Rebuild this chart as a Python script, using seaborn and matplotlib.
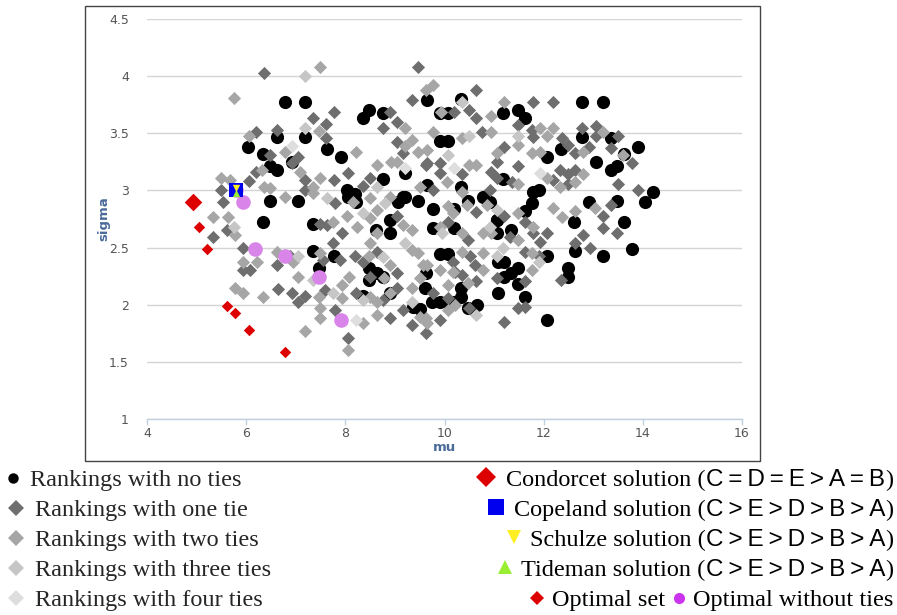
import matplotlib
matplotlib.use("Agg")
import matplotlib.pyplot as plt
import seaborn as sns
import pandas as pd
from matplotlib.patches import Rectangle
from matplotlib.lines import Line2D

# ---- data (mu, sigma) ----
no_ties_mu = [6.78, 7.19, 6.04, 6.34, 6.48, 6.62, 6.62, 7.19, 7.63, 7.91, 6.92, 7.05, 6.48, 6.34, 7.35,
              8.03, 8.05, 8.20, 8.21, 8.76, 8.90, 8.90, 8.62, 9.06, 9.20, 9.47, 9.77, 9.77, 10.19, 10.19,
              10.33, 10.47, 10.78, 10.92, 11.06, 11.18, 11.18, 8.36, 8.48, 8.76, 9.65, 10.33, 9.91, 10.07,
              9.20, 9.65, 9.91, 10.07, 11.48, 11.62, 12.77, 13.20, 12.77, 13.36, 13.90, 12.07, 12.35, 13.62,
              13.06, 13.36, 13.48, 14.21, 14.04, 13.48, 12.91, 13.62, 12.61, 11.79, 11.91, 11.77, 11.62,
              11.06, 11.06, 11.34, 9.16,
              7.35, 7.77, 7.47, 8.48, 8.64, 8.48, 8.76, 8.90, 8.36, 9.63, 9.61, 9.91, 10.07, 9.75, 9.91,
              10.07, 10.19, 10.33, 10.66, 10.47, 9.37, 9.51, 11.08, 11.08, 12.07, 12.63, 13.20, 13.78, 11.20,
              11.48, 11.34, 11.20, 11.48, 11.62, 12.49, 12.49, 10.33, 12.07]
no_ties_sigma = [3.77, 3.77, 3.38, 3.32, 3.21, 3.18, 3.47, 3.47, 3.36, 3.29, 3.25, 2.91, 2.91, 2.72, 2.71,
                 3.00, 2.94, 2.97, 2.90, 3.10, 2.74, 2.63, 2.65, 2.90, 2.94, 2.91, 2.84, 2.67, 2.84, 2.67,
                 3.03, 2.91, 2.94, 2.90, 2.74, 3.68, 3.10, 3.63, 3.70, 3.68, 3.79, 3.80, 3.43, 3.43,
                 3.15, 3.05, 3.68, 3.68, 3.70, 3.63, 3.77, 3.77, 3.47, 3.46, 3.38, 3.29, 3.36, 3.32,
                 3.25, 3.18, 3.21, 2.99, 2.90, 2.91, 2.90, 2.72, 2.72, 2.99, 3.00, 2.89, 2.82,
                 2.74, 2.63, 2.65, 2.94,
                 2.47, 2.43, 2.32, 2.32, 2.28, 2.22, 2.24, 2.10, 2.08, 2.28, 2.15, 2.44, 2.44, 2.02, 2.02,
                 2.02, 2.02, 2.07, 2.00, 1.97, 1.98, 1.96, 2.10, 2.37, 2.43, 2.47, 2.43, 2.49, 2.37,
                 2.32, 2.28, 2.24, 2.18, 2.07, 2.32, 2.24, 2.15, 1.87]

one_tie_mu = [6.36, 9.47, 9.34, 7.77, 7.35, 7.61, 6.62, 6.20, 7.61, 6.48, 7.05, 6.92, 7.19, 7.77, 8.05,
              8.50, 8.76, 9.04, 9.04, 8.90, 9.16, 9.63, 6.06, 6.20, 5.49, 7.19, 8.36, 5.53,
              10.64, 10.19, 10.49, 10.64, 11.79, 12.19, 10.76, 11.48, 11.77, 11.79, 12.37, 12.77, 13.06,
              13.06, 13.50, 11.20, 11.06, 11.48, 12.49, 12.63, 12.91, 13.36, 13.78, 9.65, 9.91, 9.91,
              10.35, 10.94, 11.06, 11.36, 12.19, 12.33, 12.49, 12.63, 12.49, 13.50, 13.90, 10.92, 9.77,
              5.61, 5.33, 5.94, 5.94, 6.08, 6.64, 6.88, 6.62, 6.92, 7.19, 7.05, 8.05, 7.55, 7.59, 7.79,
              7.89, 7.75, 7.63, 7.49, 7.79, 7.93, 8.20, 8.36, 8.64, 9.04, 9.04, 8.76, 8.22, 8.90, 9.16,
              9.34, 9.63, 9.04, 8.50,
              10.64, 11.20, 13.20, 13.36, 13.20, 13.48, 12.79, 12.63, 12.93, 10.07, 10.47, 11.62, 11.79,
              12.07, 11.93, 11.32, 11.62, 11.91, 11.62, 11.06, 10.62, 10.51, 10.17, 10.35, 10.64, 10.21,
              9.77, 10.07, 10.49, 9.91, 11.48, 11.62, 11.20, 12.35]
one_tie_sigma = [4.03, 4.08, 3.79, 3.69, 3.63, 3.58, 3.53, 3.51, 3.46, 3.31, 3.29, 3.24, 3.09, 3.09, 3.15,
                 3.11, 3.55, 3.60, 3.42, 3.69, 3.33, 3.22, 3.08, 3.16, 3.00, 3.00, 3.04, 2.90,
                 3.88, 3.69, 3.70, 3.63, 3.77, 3.77, 3.51, 3.57, 3.53, 3.47, 3.46, 3.55, 3.56,
                 3.48, 3.48, 3.38, 3.25, 3.21, 3.40, 3.33, 3.38, 3.37, 3.24, 3.24, 3.24, 3.15,
                 3.14, 3.16, 3.11, 3.07, 3.09, 3.18, 3.14, 3.18, 3.06, 3.06, 3.00, 3.00, 3.00,
                 2.65, 2.59, 2.50, 2.30, 2.30, 2.14, 2.43, 2.35, 2.10, 2.08, 2.02, 1.71, 2.39, 2.13, 1.95,
                 2.39, 2.54, 2.70, 2.71, 2.89, 2.63, 2.43, 2.37, 2.46, 2.28, 2.15, 2.04, 2.10, 1.88, 1.95,
                 1.82, 1.75, 2.78, 2.24,
                 2.81, 2.78, 2.78, 2.87, 2.67, 2.63, 2.61, 2.54, 2.50, 2.72, 2.57, 2.72, 2.63,
                 2.63, 2.55, 2.59, 2.46, 2.43, 2.21, 2.23, 2.35, 2.43, 2.37, 2.26, 2.21, 2.29,
                 2.10, 2.06, 1.97, 1.87, 1.97, 1.98, 1.85, 2.22]

two_ties_mu = [7.49, 5.75, 9.63, 7.47, 6.06, 6.78, 7.09, 7.49, 8.21, 8.64, 8.92, 9.04, 9.20, 9.20, 9.34,
               9.47, 5.49, 5.67, 6.32, 6.36, 6.48, 6.78, 7.35, 7.35, 8.50, 8.90, 8.16,
               9.77, 9.93, 10.94, 11.20, 9.77, 10.35, 10.94, 11.93, 12.07, 12.19, 13.20, 9.65, 11.48, 11.77,
               11.93, 11.06, 12.79, 13.60, 10.49, 10.64, 11.48, 12.07, 12.79, 12.33, 12.63, 10.05, 10.35, 9.51,
               5.33, 5.63, 5.77, 5.94, 6.22, 5.77, 5.94, 6.34, 6.62, 6.94, 7.05, 7.19, 8.05, 7.47, 7.49,
               7.49, 7.49, 7.93, 7.93, 8.36, 7.75, 8.03, 8.50, 8.64, 8.48, 8.90, 8.90, 8.64, 8.50, 8.64,
               9.34, 9.63, 9.51, 9.16, 9.34, 9.34, 9.47, 9.57, 8.50, 8.64, 8.24, 8.07, 8.78, 9.51,
               10.07, 10.17, 10.45, 10.86, 11.48, 12.19, 12.37, 12.63, 13.04, 9.91, 10.35, 10.78, 10.94,
               11.79, 11.48, 11.77, 11.77, 10.78, 10.78, 10.35, 10.17, 10.47, 9.91, 9.65, 10.07, 10.21,
               10.07, 9.65]
two_ties_sigma = [4.08, 3.81, 3.88, 3.52, 3.48, 3.34, 3.16, 3.11, 3.34, 3.22, 3.25, 3.25, 3.55, 3.39, 3.44,
                  3.34, 3.11, 3.09, 3.18, 3.03, 3.02, 2.94, 3.03, 2.98, 2.93, 2.94, 2.90,
                  3.92, 3.69, 3.65, 3.77, 3.51, 3.46, 3.51, 3.55, 3.48, 3.55, 3.51, 3.35, 3.40, 3.33,
                  3.34, 3.33, 3.34, 3.31, 3.22, 3.22, 3.06, 3.11, 3.14, 3.03, 3.07, 3.07, 2.99, 3.03,
                  2.77, 2.77, 2.61, 2.37, 2.37, 2.15, 2.10, 2.07, 2.46, 2.37, 2.24, 1.77, 1.60, 2.07, 2.45,
                  1.97, 1.88, 2.17, 2.06, 1.84, 2.72, 2.78, 2.54, 2.63, 2.43, 2.35, 2.10, 2.02, 2.07, 1.91,
                  2.15, 1.88, 1.89, 2.70, 2.65, 2.48, 2.45, 2.35, 2.76, 2.83, 2.68, 2.24, 2.23, 2.23,
                  2.86, 2.80, 2.87, 2.87, 2.80, 2.85, 2.77, 2.82, 2.85, 2.68, 2.63, 2.63, 2.63,
                  2.68, 2.57, 2.45, 2.30, 2.45, 2.30, 2.46, 2.29, 2.19, 2.30, 2.35, 2.17, 2.00,
                  1.95, 1.84]

three_ties_mu = [7.19, 7.19, 7.63, 8.64, 10.35, 10.49, 11.48, 10.07, 5.75, 7.05, 7.35, 7.75, 8.76, 8.36,
                 9.34, 9.20, 8.36, 8.80, 11.06, 9.95, 10.92, 11.18, 11.91, 11.06, 10.64]
three_ties_sigma = [4.00, 3.55, 2.93, 3.03, 3.77, 3.48, 3.48, 3.31, 2.68, 2.43, 2.22, 2.10, 2.42, 2.04,
                    2.02, 2.54, 2.80, 2.89, 2.83, 2.63, 2.68, 2.50, 2.37, 2.43, 1.91]

four_ties_mu = [6.92, 8.22, 9.20, 10.19, 11.93]
four_ties_sigma = [3.39, 1.87, 3.20, 3.20, 3.15]

optimal_set_mu = [5.05, 5.21, 5.61, 5.77, 6.06, 6.78]
optimal_set_sigma = [2.68, 2.49, 1.99, 1.93, 1.78, 1.59]

optimal_no_ties_mu = [5.80, 5.94, 6.18, 6.78, 7.47, 7.91]
optimal_no_ties_sigma = [3.00, 2.90, 2.49, 2.43, 2.24, 1.87]

condorcet = (4.93, 2.90)
copeland = (5.80, 3.00)
schulze = (5.80, 3.00)
tideman = (5.80, 3.00)

W, H = 897, 615
SERIF = "Liberation Serif"
SANS = "Liberation Sans"
FS = 17.5

sns.set_theme(style="white")
plt.rcParams["font.family"] = ["DejaVu Sans"]

fig = plt.figure(figsize=(W / 100, H / 100), dpi=100)
ax = fig.add_axes([147 / W, 1 - 419 / H, 595 / W, 400 / H])

groups = [
    ("none", no_ties_mu, no_ties_sigma, "o", "black", 90),
    ("one", one_tie_mu, one_tie_sigma, "D", "#6e6e6e", 45),
    ("two", two_ties_mu, two_ties_sigma, "D", "#a6a6a6", 45),
    ("three", three_ties_mu, three_ties_sigma, "D", "#c6c6c6", 45),
    ("four", four_ties_mu, four_ties_sigma, "D", "#dedede", 45),
    ("optset", optimal_set_mu, optimal_set_sigma, "D", "#dd0000", 34),
    ("optnt", optimal_no_ties_mu, optimal_no_ties_sigma, "o", "#d884e8", 110),
]
for name, xs, ys, mk, col, s in groups:
    df = pd.DataFrame({"mu": xs, "sigma": ys})
    sns.scatterplot(data=df, x="mu", y="sigma", marker=mk, color=col, s=s,
                    linewidth=0, ax=ax, legend=False, zorder=3)

sns.scatterplot(x=[condorcet[0]], y=[condorcet[1]], marker="D", color="#dd0000", s=80,
                linewidth=0, ax=ax, legend=False, zorder=4)
sns.scatterplot(x=[copeland[0]], y=[copeland[1]], marker="s", color="#0000ee", s=95,
                linewidth=0, ax=ax, legend=False, zorder=4)
sns.scatterplot(x=[tideman[0]], y=[tideman[1] - 0.02], marker="^", color="#99ee33", s=28,
                linewidth=0, ax=ax, legend=False, zorder=5)
sns.scatterplot(x=[schulze[0]], y=[schulze[1] + 0.02], marker="v", color="#ffee22", s=28,
                linewidth=0, ax=ax, legend=False, zorder=5)

ax.set_xlim(4, 16)
ax.set_ylim(1, 4.5)
ax.set_xticks([4, 6, 8, 10, 12, 14, 16])
ax.set_xticklabels(["4", "6", "8", "10", "12", "14", "16"])
yt = [1, 1.5, 2, 2.5, 3, 3.5, 4, 4.5]
ax.set_yticks(yt)
ax.set_yticklabels([f"{v:g}" for v in yt])
ax.grid(axis="y", color="#d4d4d4", lw=1)
ax.grid(axis="x", visible=False)
for sp in ["top", "right", "left"]:
    ax.spines[sp].set_visible(False)
ax.spines["bottom"].set_color("#c0d0e0")
ax.spines["bottom"].set_linewidth(1)
ax.tick_params(axis="x", bottom=True, direction="out", length=4, width=1, color="#c0d0e0",
               labelsize=9, labelcolor="#555555", pad=2)
ax.tick_params(axis="y", left=False, labelsize=9, labelcolor="#555555", pad=7)
ax.set_xlabel("mu", fontsize=9.5, fontweight="bold", color="#4a6a9a")
ax.set_ylabel("sigma", fontsize=9.5, fontweight="bold", color="#4a6a9a")
ax.xaxis.set_label_coords(0.5, -0.055)
ax.yaxis.set_label_coords(-0.062, 0.5)

# frame around the chart
fig.patches.append(Rectangle((85 / W, 1 - 461 / H), 675 / W, 455 / H, fill=False,
                             edgecolor="#444444", lw=1, transform=fig.transFigure))


# ---- legend below, drawn as text + markers ----
def fx(px):
    return px / W


def fy(py):
    return 1 - py / H


def mark(px, py, mk, col, ms):
    fig.add_artist(Line2D([fx(px)], [fy(py)], marker=mk, color=col, markersize=ms,
                          markeredgewidth=0, linestyle="none", transform=fig.transFigure))


renderer = fig.canvas.get_renderer()


def rtext(x_right, y_base, parts):
    x = x_right
    for s, fam in reversed(parts):
        t = fig.text(fx(x), fy(y_base), s, ha="right", va="baseline", family=fam, fontsize=FS,
                     color="black")
        x = t.get_window_extent(renderer=renderer).x0
    return x


left_labels = ["Rankings with no ties", "Rankings with one tie", "Rankings with two ties",
               "Rankings with three ties", "Rankings with four ties"]
left_cols = ["black", "#6e6e6e", "#a6a6a6", "#c6c6c6", "#dedede"]
bases = [486, 516, 546, 576, 606]
for i, (lab, col) in enumerate(zip(left_labels, left_cols)):
    if i == 0:
        mark(13, bases[i] - 8, "o", col, 7.5)
        fig.text(fx(30), fy(bases[i]), lab, family=SERIF, fontsize=FS, va="baseline")
    else:
        mark(16, bases[i] - 8, "D", col, 8)
        fig.text(fx(35), fy(bases[i]), lab, family=SERIF, fontsize=FS, va="baseline")

ranks = ["C\u2009=\u2009D\u2009=\u2009E\u2009>\u2009A\u2009=\u2009B",
         "C\u2009>\u2009E\u2009>\u2009D\u2009>\u2009B\u2009>\u2009A",
         "C\u2009>\u2009E\u2009>\u2009D\u2009>\u2009B\u2009>\u2009A",
         "C\u2009>\u2009E\u2009>\u2009D\u2009>\u2009B\u2009>\u2009A"]
names = ["Condorcet solution (", "Copeland solution (", "Schulze solution (", "Tideman solution ("]
rmarks = [("D", "#dd0000", 10.5, 20), ("s", "#0000ee", 11, 18), ("v", "#ffee22", 10, 16),
          ("^", "#99ee33", 10, 16)]
for i in range(4):
    x0 = rtext(893, bases[i], [(names[i], SERIF), (ranks[i], SANS), (")", SERIF)])
    mk, col, ms, gap = rmarks[i]
    mark(x0 - gap, bases[i] - 9, mk, col, ms)

x1 = rtext(893, bases[4], [("Optimal without ties", SERIF)])
mark(x1 - 14, bases[4] - 8, "o", "#cc33ee", 8)
x2 = rtext(x1 - 28, bases[4], [("Optimal set", SERIF)])
mark(x2 - 15, bases[4] - 8, "D", "#dd0000", 7)

fig.savefig("out.png", dpi=100, facecolor="white")
